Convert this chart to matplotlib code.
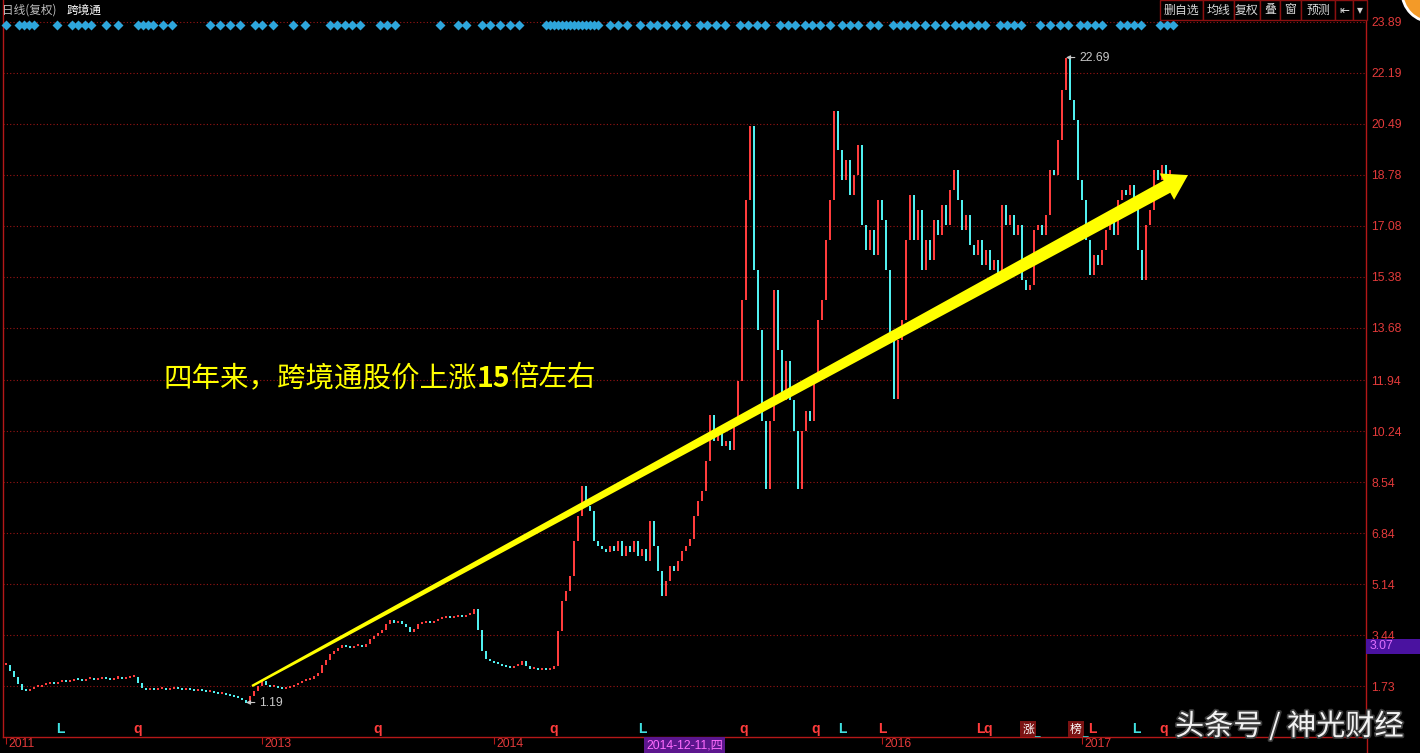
import numpy as np
import matplotlib
matplotlib.use("Agg")
import matplotlib.pyplot as plt
import matplotlib.transforms as mtransforms
from matplotlib.patches import Rectangle, Polygon, Ellipse
from matplotlib.lines import Line2D
import matplotlib.patheffects as pe

plt.rcParams['font.family'] = ['Noto Sans CJK SC', 'DejaVu Sans']

W, H = 1420, 753

# daily closes (one candle per slot)
close_2011 = [2.45, 2.25, 2.05, 1.80, 1.62, 1.58, 1.65, 1.70, 1.72, 1.78,
              1.80, 1.84, 1.82, 1.88, 1.90, 1.87, 1.92, 1.95, 1.93, 1.90,
              1.96, 1.98, 1.94, 1.97, 2.00, 1.96, 1.95, 1.99, 2.02, 1.98,
              2.00, 2.03, 2.05, 1.85, 1.66, 1.62, 1.65, 1.60, 1.63, 1.66,
              1.62, 1.64, 1.68, 1.65, 1.62, 1.64, 1.60, 1.58, 1.61, 1.56,
              1.53, 1.55, 1.50, 1.47, 1.50, 1.45, 1.42, 1.38, 1.33, 1.28,
              1.19]
close_2013 = [1.40, 1.56, 1.73, 1.90, 1.77, 1.70, 1.73, 1.67, 1.64, 1.67,
              1.70, 1.77, 1.83, 1.90, 1.93, 1.96, 2.06, 2.17, 2.45, 2.60,
              2.80, 2.90, 3.00, 3.10, 3.05, 3.00, 3.07, 3.10, 3.05, 3.15,
              3.30, 3.40, 3.50, 3.62, 3.80, 3.95, 3.85, 3.92, 3.80, 3.70,
              3.55, 3.65, 3.80, 3.85, 3.90, 3.85, 3.90, 3.97, 4.00, 4.04,
              4.00, 4.04, 4.07, 4.04, 4.10, 4.14, 4.30, 3.60, 2.90, 2.63,
              2.56, 2.50, 2.46, 2.40, 2.37, 2.33, 2.40, 2.43, 2.56, 2.40,
              2.30, 2.33, 2.27, 2.30, 2.27, 2.30, 2.40]
close_2014 = [3.57, 4.57, 4.91, 5.41, 6.58, 7.41, 8.40, 7.75, 7.58, 6.58,
              6.41, 6.32, 6.20, 6.41, 6.24, 6.58, 6.08, 6.41, 6.20, 6.58,
              6.08, 6.32, 5.91, 7.25, 6.41, 5.57, 4.74, 5.24, 5.74, 5.57,
              5.91, 6.24, 6.41, 6.64, 7.41, 7.91, 8.25]
close_2015 = [9.25, 10.76, 9.92, 10.25, 9.75, 9.92, 9.60, 10.59, 11.92, 14.60,
              17.94, 20.40, 15.60, 13.60, 10.59, 8.30, 10.59, 14.93, 12.93, 11.26,
              12.59, 11.26, 10.25, 8.30, 10.25, 10.92, 10.59, 11.92, 13.93, 14.60,
              16.60, 17.94, 20.90]
close_2016 = [19.61, 18.61, 19.28, 18.11, 18.78, 19.78, 17.11, 16.27, 16.94, 16.10,
              17.94, 17.27, 15.60, 13.26, 11.30, 13.26, 13.93, 16.60, 18.11, 16.60,
              17.61, 15.60, 16.60, 15.94, 17.27, 16.77, 17.77, 17.11, 18.28, 18.94,
              17.94, 16.94, 17.44, 16.44, 16.10, 16.60, 15.77, 16.27, 15.60, 15.94,
              15.43, 17.77, 17.11, 17.44, 16.77, 17.11, 15.27, 14.93, 15.10, 16.94,
              17.11, 16.77, 17.44, 18.94, 18.78, 19.94, 21.62, 22.69, 21.28, 20.61,
              18.61, 17.94, 16.60, 15.43, 16.10, 15.77, 16.27, 16.94, 17.27, 16.77,
              17.94, 18.28, 18.11, 18.44, 17.77, 16.27, 15.27, 17.11, 17.61, 18.94,
              18.61, 19.11, 18.44, 18.94]

price_ticks = [1.73, 3.44, 5.14, 6.84, 8.54, 10.24, 11.94, 13.68, 15.38,
               17.08, 18.78, 20.49, 22.19, 23.89]
year_pos = [0, 64, 122, 219, 269]
year_lbl = ['2011', '2013', '2014', '2016', '2017']
cursor_pos, cursor_lbl = 160, '2014-12-11,四'
cursor_price = 3.07

# info-mine diamonds along the top
diamond_pos = [0, 3.25, 4.5, 5.75, 7, 12.75, 16.5, 18, 19.75, 21.25, 25, 28,
               33, 34.25, 35.5, 36.75, 39.25, 41.5, 51, 53.5, 56, 58.5, 62.25,
               64, 66.75, 71.75, 74.75, 81, 82.75, 84.75, 86.5, 88.5, 93.5,
               95.25, 97.25, 108.5, 113, 115, 119, 121, 123.5, 126, 128.25,
               135, 136, 137, 138, 139, 140, 141, 142, 143, 144, 145, 146, 147,
               148, 151, 153, 155.25, 158.5, 161, 162.75, 165, 167.5, 170,
               173.5, 175.25, 177.5, 179.75, 183.5, 185.5, 187.75, 189.75,
               193.5, 195.5, 197.25, 199.75, 201.5, 203.5, 206, 209, 211, 213,
               216, 218, 221.75, 223.5, 225.25, 227.25, 229.75, 232.25, 234.75,
               237.25, 239, 241, 243, 244.75, 248.5, 250.25, 252, 253.75, 258.5,
               261, 263.5, 265.5, 268.5, 270.25, 272.25, 274, 278.5, 280.25,
               282, 283.75, 288.5, 290.25, 291.75]

# signal flags along the bottom
flag_pos = [13.5, 33, 93, 137, 159, 184.5, 202.5, 209, 219, 243.5, 245.5, 271.5, 282.5, 289.5]
flag_txt = ['L', 'q', 'q', 'q', 'L', 'q', 'q', 'L', 'L', 'L', 'q', 'L', 'L', 'q']
flag_up = [False, True, True, True, False, True, True, False, True, True, True, True, False, True]
box_pos = [255.5, 267.5]
box_txt = ['涨', '榜']

arrow_from = (61.5, 1.74)
arrow_to = (295.5, 18.77)
note_xy = (39.25, 12.01)

UP, DOWN = '#ff3c3c', '#50f0f0'
AXRED, GRIDRED = '#b41818', '#9a1414'
LBLRED = '#e23a3a'

fig = plt.figure(figsize=(W / 100, H / 100), dpi=100, facecolor='black')
ax = fig.add_axes([3 / W, 16 / H, 1363 / W, 737 / H])
ax.set_facecolor('black')
ax.set_xlim(-0.75, 340)
ax.set_ylim(0.04, 24.607)

closes = np.array(close_2011 + close_2013 + close_2014 + close_2015 + close_2016)
opens = np.r_[closes[0], closes[:-1]]
idx = np.arange(len(closes))
bot = np.minimum(opens, closes)
hgt = np.maximum(np.abs(closes - opens), 0.07)
up = closes >= opens
ax.bar(idx[up], hgt[up], bottom=bot[up], width=0.45, color=UP, linewidth=0, zorder=3)
ax.bar(idx[~up], hgt[~up], bottom=bot[~up], width=0.45, color=DOWN, linewidth=0, zorder=3)

# axes styling
ax.set_yticks(price_ticks)
ax.set_yticklabels([f'{v:.2f}' for v in price_ticks], fontfamily='Liberation Sans',
                   fontsize=8.8, color=LBLRED)
ax.yaxis.tick_right()
ax.tick_params(axis='y', length=0, pad=4)
ax.grid(axis='y', color=GRIDRED, linestyle=(0, (1, 2)), linewidth=0.8)
ax.set_axisbelow(True)
ax.set_xticks(year_pos)
ax.set_xticklabels(year_lbl, fontfamily='Liberation Sans', fontsize=8.8, color=LBLRED, ha='left')
ax.tick_params(axis='x', length=5, width=0.8, color=AXRED, pad=-4, direction='out')
shift = mtransforms.ScaledTranslation(0.025, 0, fig.dpi_scale_trans)
for lbl in ax.get_xticklabels():
    lbl.set_transform(lbl.get_transform() + shift)
for s in ['left', 'right', 'bottom']:
    ax.spines[s].set_color(AXRED)
    ax.spines[s].set_linewidth(1)
ax.spines['top'].set_visible(False)
fig.add_artist(Line2D([1366.5 / W] * 2, [0, 16 / H], color=AXRED, lw=1))

bt = mtransforms.blended_transform_factory(ax.transData, ax.transAxes)

# top diamonds
ax.plot(diamond_pos, [1 - 25 / 737] * len(diamond_pos), 'D', ms=4.6, color='#2ea6dc',
        mec='none', transform=bt, clip_on=False, zorder=4)

# bottom flags
for x, t, u in zip(flag_pos, flag_txt, flag_up):
    ax.text(x, 8 / 737, t, transform=bt, color=UP if u else '#40e0e0', fontsize=10,
            fontfamily='Liberation Sans', fontweight='bold', ha='center', va='center', zorder=5)
for x, t in zip(box_pos, box_txt):
    ax.text(x, 8 / 737, t, transform=bt, color='white', fontsize=8.5, ha='center', va='center',
            bbox=dict(boxstyle='square,pad=0.15', fc='#7a1212', ec='none'), zorder=5)
    ax.text(x + 1.6, 5 / 737, '_', transform=bt, color='#40e0e0', fontsize=8,
            fontfamily='DejaVu Sans', ha='left', va='center', zorder=5)

# cursor date / price boxes
ax.text(cursor_pos, -2 / 737, cursor_lbl, transform=bt, va='top', ha='left',
        fontfamily=['Liberation Sans', 'Noto Sans CJK SC'], fontsize=8.8, color='#ff6cff',
        bbox=dict(boxstyle='square,pad=0.15', fc='#5c168e', ec='none'), clip_on=False)
rt = mtransforms.blended_transform_factory(ax.transAxes, ax.transData)
ax.add_patch(Rectangle((1.0, cursor_price - 0.25), 0.04, 0.5, transform=rt,
                       fc='#4a12a0', ec='none', clip_on=False, zorder=5))
ax.text(1.0 + 4 / 1363, cursor_price, f'{cursor_price:.2f}', transform=rt, va='center', ha='left',
        fontfamily='Liberation Sans', fontsize=8.8, color='#e070ff', zorder=6, clip_on=False)

# extreme labels
lo_i, hi_i = int(np.argmin(closes)), int(np.argmax(closes))
for i in (lo_i, hi_i):
    ax.annotate(f'{closes[i]:.2f}', xy=(i, closes[i]), xytext=(13, 0), textcoords='offset pixels',
                va='center', ha='left', color='#c8c8c8', fontsize=8.8, fontfamily='Liberation Sans',
                arrowprops=dict(arrowstyle='-|>', color='#c8c8c8', lw=0.8, shrinkA=1, shrinkB=0,
                                mutation_scale=6), zorder=7)

# tapered yellow arrow
S = ax.transData.transform(arrow_from)
T = ax.transData.transform(arrow_to)
d = T - S
u = d / np.hypot(*d)
n = np.array([-u[1], u[0]])
B = T - u * 24
pts = [S + n * 1.2, B + n * 7, B + n * 15, T, B - n * 15, B - n * 7, S - n * 1.2]
ax.add_patch(Polygon(pts, closed=True, transform=mtransforms.IdentityTransform(),
                     fc='#ffff00', ec='none', zorder=6))

# caption
t1 = ax.text(note_xy[0], note_xy[1], '四年来，跨境通股价上涨', color='#ffff00', fontsize=20.5,
             ha='left', va='center', zorder=7)
t2 = ax.annotate('15', xy=(1, 0), xycoords=t1, ha='left', va='bottom', color='#ffff00',
                 fontsize=20.5, fontweight='bold', zorder=7)
ax.annotate('倍左右', xy=(1, 0), xycoords=t2, ha='left', va='bottom', color='#ffff00',
            fontsize=20.5, zorder=7)

# header + toolbar
fig.text(2 / W, 1 - 10 / H, '日线(复权)', color='#bdbdbd', fontsize=8.4, va='center')
fig.text(67 / W, 1 - 10 / H, '跨境通', color='white', fontsize=8.4, va='center')
edges = [1160, 1203, 1234, 1260, 1280, 1301, 1335, 1353, 1367]
tools = ['删自选', '均线', '复权', '叠', '窗', '预测', '⇤', '▾']
for x0, x1, lab in zip(edges[:-1], edges[1:], tools):
    fig.add_artist(Rectangle((x0 / W, 1 - 20 / H), (x1 - x0) / W, 20 / H, transform=fig.transFigure,
                             fc='black', ec='#8a1010', lw=1))
    fig.text((x0 + x1) / 2 / W, 1 - 10 / H, lab, color='#d8d8d8', fontsize=8.6,
             ha='center', va='center')

# corner badge + watermark
fig.add_artist(Ellipse((1432, H + 8), 60, 60, transform=mtransforms.IdentityTransform(),
                       fc='#f39a28', ec='white', lw=2))
fig.text(1175 / W, 1 - 727 / H, '头条号 / 神光财经', color='#f2f2f2', fontsize=21,
         ha='left', va='center',
         path_effects=[pe.withStroke(linewidth=2.5, foreground='#3a3a3a')])

fig.savefig('out.png', dpi=100, facecolor='black')
